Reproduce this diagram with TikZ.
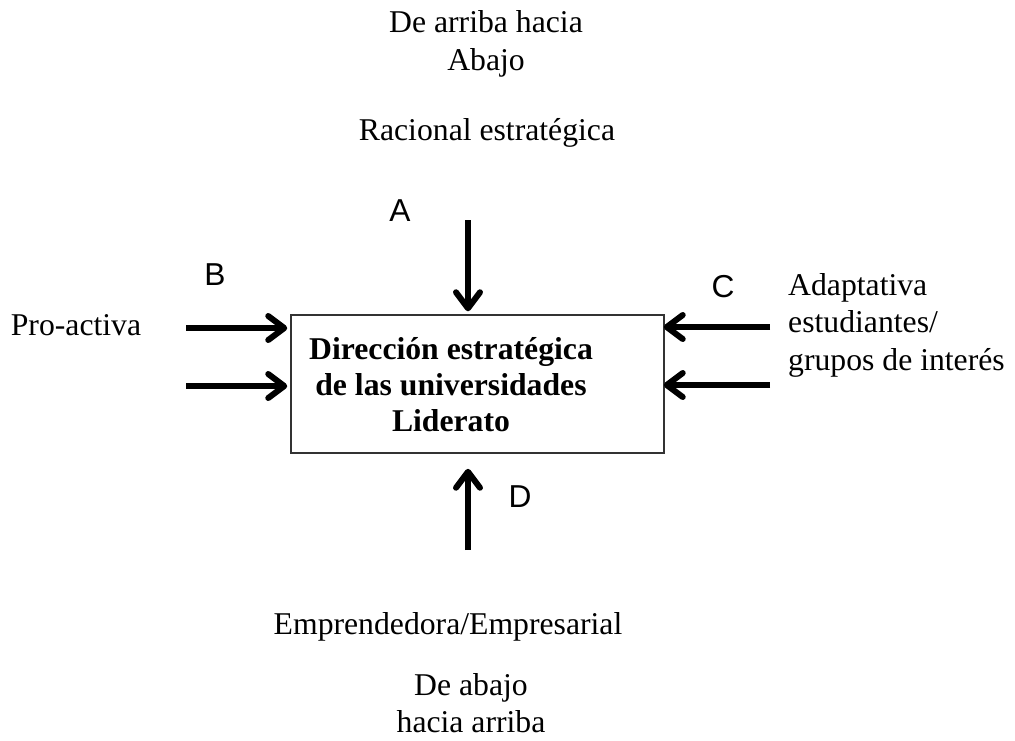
\documentclass[tikz,border=0pt]{standalone}
\usepackage{fontspec}
\setmainfont{Liberation Serif}
\setsansfont{Liberation Sans}
\usetikzlibrary{arrows.meta,calc}
\tikzstyle{mainbox}=[draw=black!80,line width=1.5pt,minimum width=373pt,minimum height=138pt,inner sep=0pt]
\tikzstyle{flow} = [draw,line width=6pt,-{Straight Barb[length=16pt,width=24pt,round]}]
\tikzstyle{txt}=[font=\fontsize{31.7}{37.5}\selectfont,inner sep=0pt,align=center]
\tikzstyle{boldtxt}=[font=\bfseries\fontsize{31.7}{36}\selectfont,inner sep=0pt,align=center]
\tikzstyle{letter}=[font=\sffamily\fontsize{31.7}{37.5}\selectfont,inner sep=0pt]

\begin{document}
\begin{tikzpicture}[x=1pt,y=-1pt]
   \useasboundingbox (0,0) rectangle (1015,740);

   % central box
   \node[mainbox] (box) at (477.5,384) {};
   \node[boldtxt] (boxtext) at (451,385) {Direcci\'on estrat\'egica\\de las universidades\\Liderato};

   % texts round the box
   \node[txt] (top) at (486,44) {De arriba hacia\\Abajo};
   \node[txt] (racional) at (487,133) {Racional estrat\'egica};
   \node[txt] (proactiva) at (76,325) {Pro-activa};
   \node[txt,anchor=west,align=left] (adaptativa) at (788,325) {Adaptativa\\estudiantes/\\grupos de inter\'es};
   \node[txt] (emprend) at (448,627) {Emprendedora/Empresarial};
   \node[txt] (bottom) at (471,703) {De abajo\\hacia arriba};

   % letters
   \foreach \pos/ \name / \label in {{(400,211)/letA/A},{(215,275)/letB/B},{(723,287)/letC/C},{(520,497)/letD/D}}
        \node[letter] (\name) at \pos {\label};

   % start points of the arrows
   \coordinate (a1) at (468,220);
   \coordinate (b1) at (186,328);
   \coordinate (b2) at (186,386);
   \coordinate (c1) at (770,327);
   \coordinate (c2) at (770,385);
   \coordinate (d1) at (468,550);

   % arrows into the box
   \foreach \source in {b1,b2}
        \draw[flow,shorten >=3pt] (\source) -- (\source -| box.west);
   \foreach \source in {c1,c2}
        \draw[flow,shorten >=-1pt] (\source) -- (\source -| box.east);
   \draw[flow,shorten >=3pt] (a1) -- (a1 |- box.north);
   \draw[flow,shorten >=15pt] (d1) -- (d1 |- box.south);
\end{tikzpicture}
\end{document}
